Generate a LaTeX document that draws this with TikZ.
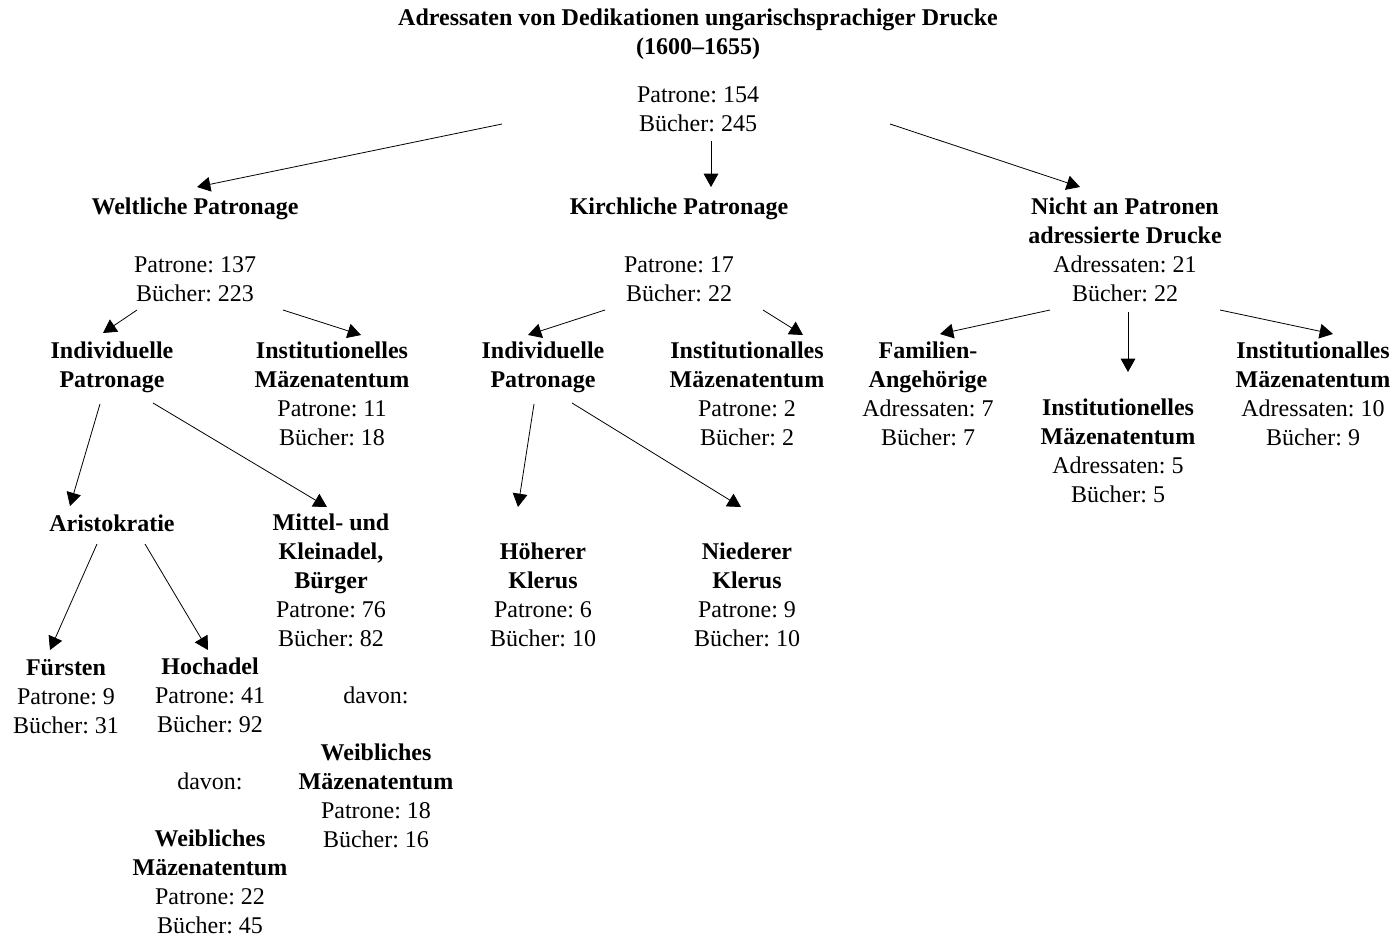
\documentclass[tikz,border=0pt]{standalone}
\usepackage{fontspec}
\setmainfont{Liberation Serif}
\usetikzlibrary{arrows.meta,calc}
\frenchspacing

\tikzset{
  feld/.style={align=center, inner sep=0pt, font=\fontsize{18}{21.75}\selectfont},
  pfeil/.style={line width=0.6pt, -{Triangle[length=10pt,width=11pt]}}
}

\begin{document}
\begin{tikzpicture}[x=0.75pt, y=-0.75pt]
    \useasboundingbox (0,0) rectangle (1397,940);

    % Kopf
    \node[feld] (titel) at (698,34) {\textbf{Adressaten von Dedikationen ungarischsprachiger Drucke}\\ \textbf{(1600--1655)}};
    \node[feld] (gesamt) at (698,109.5) {Patrone: 154\\ Bücher: 245};

    % Ebene 1
    \node[feld] (welt) at (195,250) {\textbf{Weltliche Patronage}\\[21.75pt] Patrone: 137\\ Bücher: 223};
    \node[feld] (kirch) at (679,250) {\textbf{Kirchliche Patronage}\\[21.75pt] Patrone: 17\\ Bücher: 22};
    \node[feld] (nicht) at (1125,250) {\textbf{Nicht an Patronen}\\ \textbf{adressierte Drucke}\\ Adressaten: 21\\ Bücher: 22};

    % Ebene 2
    \node[feld] (weltind) at (112,367.5) {\textbf{Individuelle}\\ \textbf{Patronage}};
    \node[feld] (weltinst) at (332,394) {\textbf{Institutionelles}\\ \textbf{Mäzenatentum}\\ Patrone: 11\\ Bücher: 18};
    \node[feld] (kirchind) at (543,367.5) {\textbf{Individuelle}\\ \textbf{Patronage}};
    \node[feld] (kirchinst) at (747,394) {\textbf{Institutionalles}\\ \textbf{Mäzenatentum}\\ Patrone: 2\\ Bücher: 2};
    \node[feld] (familie) at (928,394) {\textbf{Familien-}\\ \textbf{Angehörige}\\ Adressaten: 7\\ Bücher: 7};
    \node[feld] (nichtinstA) at (1118,451) {\textbf{Institutionelles}\\ \textbf{Mäzenatentum}\\ Adressaten: 5\\ Bücher: 5};
    \node[feld] (nichtinstB) at (1313,394) {\textbf{Institutionalles}\\ \textbf{Mäzenatentum}\\ Adressaten: 10\\ Bücher: 9};

    % Ebene 3
    \node[feld] (aristo) at (112,523) {\textbf{Aristokratie}};
    \node[feld] (mittel) at (331,580.5) {\textbf{Mittel- und}\\ \textbf{Kleinadel,}\\ \textbf{Bürger}\\ Patrone: 76\\ Bücher: 82};
    \node[feld] (hoeher) at (543,594.5) {\textbf{Höherer}\\ \textbf{Klerus}\\ Patrone: 6\\ Bücher: 10};
    \node[feld] (nieder) at (747,594.5) {\textbf{Niederer}\\ \textbf{Klerus}\\ Patrone: 9\\ Bücher: 10};

    % Ebene 4
    \node[feld] (fuersten) at (66,696.5) {\textbf{Fürsten}\\ Patrone: 9\\ Bücher: 31};
    \node[feld] (hochadel) at (210,695) {\textbf{Hochadel}\\ Patrone: 41\\ Bücher: 92};
    \node[feld] (davonA) at (376,695) {davon:};
    \node[feld] (weibA) at (376,796) {\textbf{Weibliches}\\ \textbf{Mäzenatentum}\\ Patrone: 18\\ Bücher: 16};
    \node[feld] (davonB) at (210,781) {davon:};
    \node[feld] (weibB) at (210,882) {\textbf{Weibliches}\\ \textbf{Mäzenatentum}\\ Patrone: 22\\ Bücher: 45};

    % Pfeile
    \draw[pfeil] ($(gesamt)+(-196,14.5)$) -- ($(welt)+(2,-63)$);
    \draw[pfeil] ($(gesamt)+(13,31.5)$) -- ($(kirch)+(32,-63)$);
    \draw[pfeil] ($(gesamt)+(192,14.5)$) -- ($(nicht)+(-45,-63)$);

    \draw[pfeil] ($(welt)+(-58,60)$) -- ($(weltind)+(-9,-34.5)$);
    \draw[pfeil] ($(welt)+(88,60)$) -- ($(weltinst)+(29,-59)$);
    \draw[pfeil] ($(kirch)+(-74,60)$) -- ($(kirchind)+(-15,-32.5)$);
    \draw[pfeil] ($(kirch)+(84,60)$) -- ($(kirchinst)+(56,-59)$);
    \draw[pfeil] ($(nicht)+(-75,60)$) -- ($(familie)+(12,-60)$);
    \draw[pfeil] ($(nicht)+(3,62)$) -- ($(nichtinstA)+(10,-79)$);
    \draw[pfeil] ($(nicht)+(95,60)$) -- ($(nichtinstB)+(20,-60)$);

    \draw[pfeil] ($(weltind)+(-12,36.5)$) -- ($(aristo)+(-42,-17)$);
    \draw[pfeil] ($(weltind)+(41,35.5)$) -- ($(mittel)+(-4,-73.5)$);
    \draw[pfeil] ($(kirchind)+(-9,36.5)$) -- ($(hoeher)+(-25,-87.5)$);
    \draw[pfeil] ($(kirchind)+(29,35.5)$) -- ($(nieder)+(-6,-87.5)$);

    \draw[pfeil] ($(aristo)+(-15,21)$) -- ($(fuersten)+(-16,-46.5)$);
    \draw[pfeil] ($(aristo)+(33,21)$) -- ($(hochadel)+(-2,-45)$);
\end{tikzpicture}
\end{document}
